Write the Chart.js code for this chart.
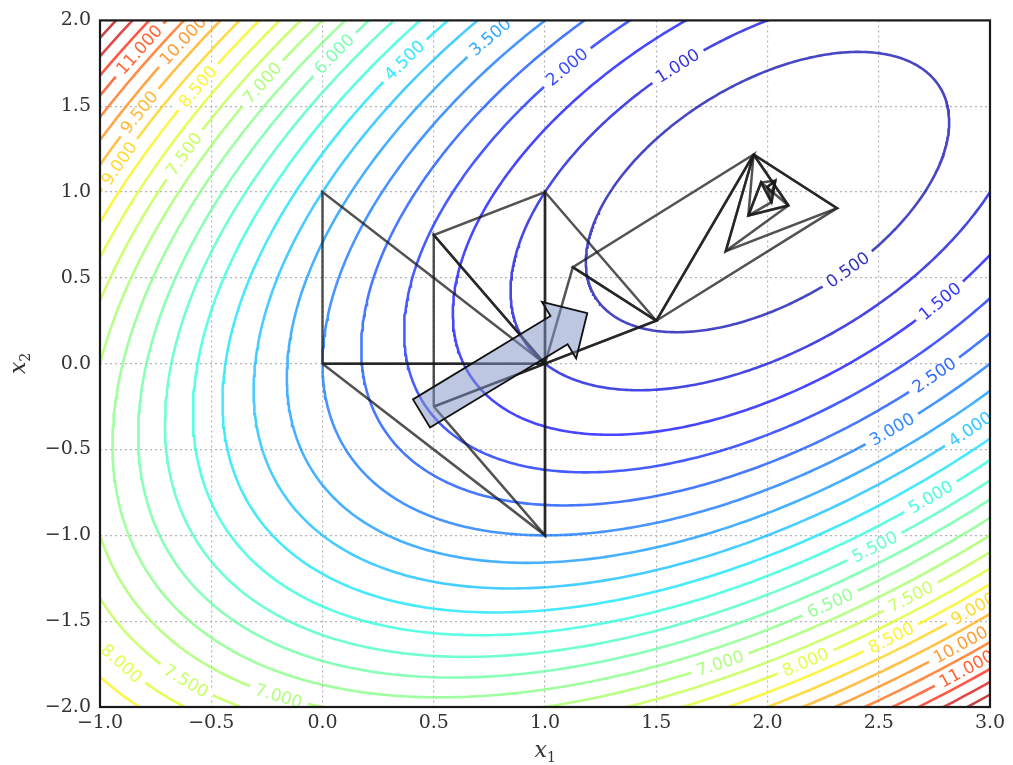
<!DOCTYPE html>
<html>
<head>
<meta charset="utf-8">
<script src="https://cdn.jsdelivr.net/npm/chart.js@4.4.1/dist/chart.umd.min.js"></script>
<style>
  html, body { margin: 0; padding: 0; background: #fff; }
</style>
</head>
<body>
<canvas id="chart" width="1013" height="765"></canvas>
<script>
// f(x1,x2) = a*(x1-c1)^2 + b*(x2-c2)^2 + c*(x1-c1)*(x2-c2)
const fCenter = [2.0, 1.0];
const fCoef = [1.0, 1.0, -1.0];
const levels = [0.5, 1.0, 1.5, 2.0, 2.5, 3.0, 3.5, 4.0, 4.5, 5.0, 5.5, 6.0, 6.5,
                7.0, 7.5, 8.0, 8.5, 9.0, 9.5, 10.0, 10.5, 11.0, 11.5, 12.0, 12.5];
const colorRange = [0, 13];

const xTicks = [-1.0, -0.5, 0.0, 0.5, 1.0, 1.5, 2.0, 2.5, 3.0];
const yTicks = [-2.0, -1.5, -1.0, -0.5, 0.0, 0.5, 1.0, 1.5, 2.0];

// simplex history (triangle vertices)
const simplices = [
  [[0, 0], [1, 0], [0, 1]],
  [[0, 0], [1, 0], [1, -1]],
  [[0.5, -0.25], [1, 0], [1, -1]],
  [[0.5, -0.25], [1, 0], [0.5, 0.75]],
  [[1, 0], [0.5, 0.75], [1, 1]],
  [[1, 0], [1, 1], [1.5, 0.25]],
  [[1, 0], [1.5, 0.25], [1.125, 0.5625]],
  [[1.5, 0.25], [1.125, 0.5625], [1.9375, 1.21875]],
  [[1.5, 0.25], [1.9375, 1.21875], [2.3125, 0.90625]],
  [[1.9375, 1.21875], [2.3125, 0.90625], [1.8125, 0.65625]],
  [[1.9375, 1.21875], [1.8125, 0.65625], [2.094, 0.922]],
  [[1.9375, 1.21875], [2.094, 0.922], [1.914, 0.863]],
  [[2.094, 0.922], [1.914, 0.863], [1.971, 1.056]],
  [[1.914, 0.863], [1.971, 1.056], [2.018, 0.941]],
  [[1.971, 1.056], [2.018, 0.941], [2.035, 1.066]],
  [[2.018, 0.941], [2.035, 1.066], [1.999, 1.030]],
  [[2.035, 1.066], [1.999, 1.030], [2.018, 0.995]]
];

const arrowFrom = [0.445, -0.29];
const arrowTo = [1.19, 0.295];

// contour labels: [level, approx x1, approx x2]
const contourLabels = [
  [11.0, -0.82, 1.83], [10.0, -0.65, 1.90], [9.5, -0.82, 1.46], [9.0, -0.92, 1.17],
  [8.5, -0.58, 1.64], [7.5, -0.64, 1.24], [7.0, -0.28, 1.64], [6.0, 0.03, 1.84],
  [4.5, 0.37, 1.77], [3.5, 0.75, 1.91], [2.0, 1.09, 1.74], [1.0, 1.61, 1.71],
  [0.5, 2.36, 0.55], [1.5, 2.78, 0.36], [2.5, 2.74, -0.05], [3.0, 2.56, -0.38],
  [4.0, 2.91, -0.38], [5.0, 2.73, -0.76], [5.5, 2.47, -1.05], [6.5, 2.28, -1.38],
  [7.5, 2.63, -1.34], [9.0, 2.94, -1.46], [8.5, 2.60, -1.69], [10.0, 2.87, -1.65],
  [11.0, 2.90, -1.77], [8.0, 2.16, -1.69], [7.0, 1.83, -1.90],
  [8.0, -0.91, -1.75], [7.5, -0.61, -1.84], [7.0, -0.19, -1.92]
];

// jet colormap
const jetR = [[0, 0], [0.35, 0], [0.66, 1], [0.89, 1], [1, 0.5]];
const jetG = [[0, 0], [0.125, 0], [0.375, 1], [0.64, 1], [0.91, 0], [1, 0]];
const jetB = [[0, 0.5], [0.11, 1], [0.34, 1], [0.65, 0], [1, 0]];
function jetChannel(pts, t) {
  for (let i = 1; i < pts.length; i++) {
    if (t <= pts[i][0]) {
      const [t0, v0] = pts[i - 1], [t1, v1] = pts[i];
      return v0 + (v1 - v0) * (t - t0) / (t1 - t0);
    }
  }
  return pts[pts.length - 1][1];
}
function levelColor(lv, alpha) {
  const t = (lv - colorRange[0]) / (colorRange[1] - colorRange[0]);
  const r = Math.round(255 * jetChannel(jetR, t));
  const g = Math.round(255 * jetChannel(jetG, t));
  const b = Math.round(255 * jetChannel(jetB, t));
  return `rgba(${r},${g},${b},${alpha})`;
}

// ellipse axes from the quadratic form
const [qa, qb, qc] = fCoef;
const tr = qa + qb, det = qa * qb - qc * qc / 4;
const disc = Math.sqrt(tr * tr / 4 - det);
const lam1 = tr / 2 - disc, lam2 = tr / 2 + disc;
function eigvec(lam, fallback) {
  const vx = qc / 2, vy = lam - qa;
  const n = Math.hypot(vx, vy);
  return n < 1e-12 ? fallback : [vx / n, vy / n];
}
const e1 = eigvec(lam1, [1, 0]);
const e2 = eigvec(lam2, [0, 1]);
function ellipsePoint(lv, th) {
  const r1 = Math.sqrt(lv / lam1), r2 = Math.sqrt(lv / lam2);
  return [
    fCenter[0] + r1 * Math.cos(th) * e1[0] + r2 * Math.sin(th) * e2[0],
    fCenter[1] + r1 * Math.cos(th) * e1[1] + r2 * Math.sin(th) * e2[1]
  ];
}

const datasets = [];
simplices.forEach(tri => {
  datasets.push({
    data: tri.concat([tri[0]]).map(p => ({ x: p[0], y: p[1] })),
    showLine: true,
    borderColor: 'rgba(25,25,25,0.75)',
    borderWidth: 2.5,
    pointRadius: 0,
    clip: 0
  });
});
levels.forEach(lv => {
  const pts = [];
  const n = 500;
  for (let i = 0; i <= n; i++) {
    const p = ellipsePoint(lv, i / n * 2 * Math.PI);
    pts.push({ x: p[0], y: p[1] });
  }
  datasets.push({
    data: pts,
    showLine: true,
    borderColor: levelColor(lv, 0.72),
    borderWidth: 2.6,
    pointRadius: 0,
    clip: 0
  });
});

const contourLabelPlugin = {
  id: 'contourLabels',
  afterDatasetDraw(chart, args) {
    if (args.index !== simplices.length) return;
    const { ctx, chartArea } = chart;
    const xs = chart.scales.x, ys = chart.scales.y;
    ctx.save();
    ctx.beginPath();
    ctx.rect(chartArea.left, chartArea.top, chartArea.right - chartArea.left, chartArea.bottom - chartArea.top);
    ctx.clip();
    ctx.font = '17px "DejaVu Sans"';
    ctx.textAlign = 'center';
    ctx.textBaseline = 'middle';
    contourLabels.forEach(([lv, lx, ly]) => {
      const px = xs.getPixelForValue(lx), py = ys.getPixelForValue(ly);
      let best = 0, bestD = Infinity;
      for (let i = 0; i < 1440; i++) {
        const th = i / 1440 * 2 * Math.PI;
        const p = ellipsePoint(lv, th);
        const d = (xs.getPixelForValue(p[0]) - px) ** 2 + (ys.getPixelForValue(p[1]) - py) ** 2;
        if (d < bestD) { bestD = d; best = th; }
      }
      const p = ellipsePoint(lv, best), q = ellipsePoint(lv, best + 0.001);
      const cx = xs.getPixelForValue(p[0]), cy = ys.getPixelForValue(p[1]);
      let ang = Math.atan2(ys.getPixelForValue(q[1]) - cy, xs.getPixelForValue(q[0]) - cx);
      if (ang > Math.PI / 2) ang -= Math.PI;
      if (ang < -Math.PI / 2) ang += Math.PI;
      const text = lv.toFixed(3);
      const w = ctx.measureText(text).width + 12;
      ctx.save();
      ctx.translate(cx, cy);
      ctx.rotate(ang);
      ctx.fillStyle = '#fff';
      ctx.fillRect(-w / 2, -5, w, 10);
      ctx.fillStyle = levelColor(lv, 0.8);
      ctx.fillText(text, 0, 1);
      ctx.restore();
    });
    ctx.restore();
  }
};

const arrowPlugin = {
  id: 'arrow',
  afterDatasetsDraw(chart) {
    const ctx = chart.ctx;
    const xs = chart.scales.x, ys = chart.scales.y;
    const tx = xs.getPixelForValue(arrowFrom[0]), ty = ys.getPixelForValue(arrowFrom[1]);
    const hx = xs.getPixelForValue(arrowTo[0]), hy = ys.getPixelForValue(arrowTo[1]);
    const len = Math.hypot(hx - tx, hy - ty);
    const ux = (hx - tx) / len, uy = (hy - ty) / len;
    const nx = -uy, ny = ux;
    const sw = 16.5, hw = 33, hl = 33;
    const bx = hx - ux * hl, by = hy - uy * hl;
    ctx.save();
    ctx.beginPath();
    ctx.moveTo(tx + nx * sw, ty + ny * sw);
    ctx.lineTo(bx + nx * sw, by + ny * sw);
    ctx.lineTo(bx + nx * hw, by + ny * hw);
    ctx.lineTo(hx, hy);
    ctx.lineTo(bx - nx * hw, by - ny * hw);
    ctx.lineTo(bx - nx * sw, by - ny * sw);
    ctx.lineTo(tx - nx * sw, ty - ny * sw);
    ctx.closePath();
    ctx.fillStyle = 'rgba(130,148,200,0.52)';
    ctx.fill();
    ctx.strokeStyle = '#111';
    ctx.lineWidth = 1.8;
    ctx.stroke();
    ctx.restore();
  }
};

const framePlugin = {
  id: 'frame',
  afterDraw(chart) {
    const { ctx, chartArea } = chart;
    ctx.save();
    ctx.strokeStyle = '#1a1a1a';
    ctx.lineWidth = 2.2;
    ctx.strokeRect(chartArea.left, chartArea.top, chartArea.right - chartArea.left, chartArea.bottom - chartArea.top);
    // axis titles
    ctx.fillStyle = '#333';
    ctx.textBaseline = 'alphabetic';
    const midX = (chartArea.left + chartArea.right) / 2;
    ctx.font = 'italic 22px "DejaVu Serif"';
    ctx.textAlign = 'right';
    ctx.fillText('x', midX + 2, 757);
    ctx.font = '14px "DejaVu Serif"';
    ctx.textAlign = 'left';
    ctx.fillText('1', midX + 2, 762);
    const midY = (chartArea.top + chartArea.bottom) / 2;
    ctx.translate(25, midY);
    ctx.rotate(-Math.PI / 2);
    ctx.font = 'italic 22px "DejaVu Serif"';
    ctx.textAlign = 'right';
    ctx.fillText('x', 2, 0);
    ctx.font = '14px "DejaVu Serif"';
    ctx.textAlign = 'left';
    ctx.fillText('2', 2, 5);
    ctx.restore();
  }
};

const fmtTick = v => Number(v).toFixed(1).replace('-', '\u2212');

new Chart(document.getElementById('chart'), {
  type: 'scatter',
  data: { datasets: datasets },
  options: {
    responsive: false,
    animation: false,
    events: [],
    layout: { padding: { top: 15, right: 23, left: 0, bottom: 0 } },
    plugins: { legend: { display: false }, tooltip: { enabled: false } },
    scales: {
      x: {
        type: 'linear',
        min: -1, max: 3,
        afterBuildTicks: s => { s.ticks = xTicks.map(v => ({ value: v })); },
        afterFit: s => { s.height = 58; },
        ticks: { callback: fmtTick, font: { family: 'DejaVu Serif', size: 19 }, color: '#333', padding: 5, maxRotation: 0 },
        grid: { color: '#b5b5b5', lineWidth: 1.2, drawTicks: false },
        border: { display: false, dash: [2, 3] }
      },
      y: {
        type: 'linear',
        min: -2, max: 2,
        afterBuildTicks: s => { s.ticks = yTicks.map(v => ({ value: v })); },
        afterFit: s => { s.width = 100; },
        ticks: { callback: fmtTick, font: { family: 'DejaVu Serif', size: 19 }, color: '#333', padding: 9 },
        grid: { color: '#b5b5b5', lineWidth: 1.2, drawTicks: false },
        border: { display: false, dash: [2, 3] }
      }
    }
  },
  plugins: [contourLabelPlugin, arrowPlugin, framePlugin]
});
</script>
</body>
</html>
